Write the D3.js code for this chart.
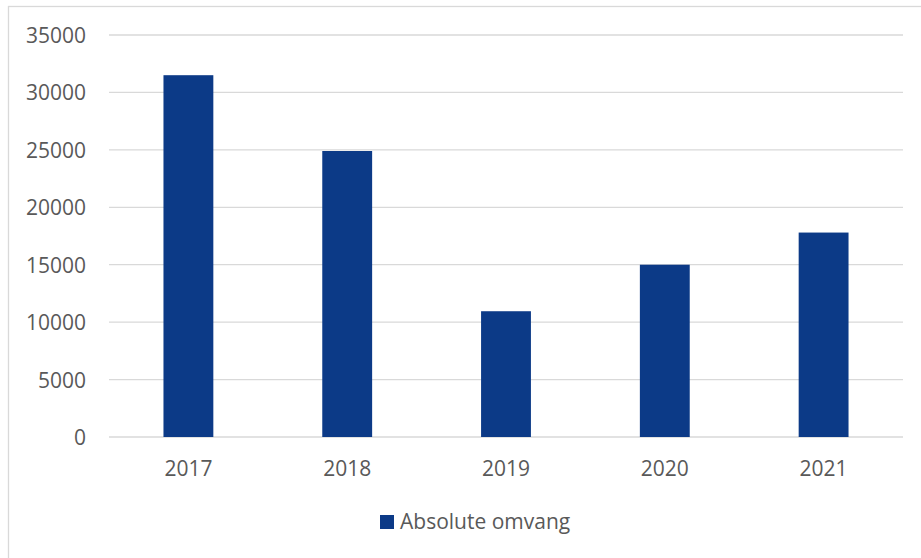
<!DOCTYPE html>
<html><head><meta charset="utf-8">
<script src="https://cdn.jsdelivr.net/npm/d3@7"></script>
<style>body{margin:0;background:#fff}svg{display:block}</style>
</head><body>
<svg id="c" width="921" height="558"></svg>
<script>
const categories = ["2017","2018","2019","2020","2021"];
const values = [31500, 24900, 10950, 15000, 17800];
const yTicks = [0,5000,10000,15000,20000,25000,30000,35000];
const seriesName = "Absolute omvang";

(function(){
const svg = d3.select("#c");
const font = "'Open Sans', sans-serif";
const textColor = "#595959";
const barColor = "#0c3a87";

// outer border
svg.append("rect").attr("x",8.5).attr("y",6.5).attr("width",1000).attr("height",1000)
  .attr("fill","none").attr("stroke","#d9d9d9").attr("stroke-width",1.3);

const pLeft = 109, pRight = 903, pTop = 35, pBottom = 437;
const x = d3.scaleBand().domain(categories).range([pLeft,pRight]).paddingInner(0.686).paddingOuter(0.343);
const y = d3.scaleLinear().domain([0,35000]).range([pBottom,pTop]);

// gridlines
svg.append("g").selectAll("line").data(yTicks).join("line")
  .attr("x1",pLeft).attr("x2",pRight)
  .attr("y1",d=>y(d)).attr("y2",d=>y(d))
  .attr("stroke","#d9d9d9").attr("stroke-width",1.3);

// y axis labels
const yAxis = d3.axisLeft(y).tickValues(yTicks).tickSize(0).tickPadding(0).tickFormat(d3.format("d"));
const gy = svg.append("g").attr("transform",`translate(86,0)`).call(yAxis);
gy.select(".domain").remove();
gy.selectAll("text").attr("font-family",font).attr("font-size",21).attr("fill",textColor).attr("dy","0.36em");

// bars
svg.append("g").selectAll("rect").data(values).join("rect")
  .attr("x",(d,i)=>x(categories[i])).attr("width",x.bandwidth())
  .attr("y",d=>y(d)).attr("height",d=>y(0)-y(d))
  .attr("fill",barColor);

// x axis labels
const xAxis = d3.axisBottom(x).tickSize(0).tickPadding(0);
const gx = svg.append("g").attr("transform",`translate(0,${pBottom})`).call(xAxis);
gx.select(".domain").remove();
gx.selectAll("text").attr("font-family",font).attr("font-size",21).attr("fill",textColor).attr("dy",null).attr("y",39);

// legend
const lg = svg.append("g");
lg.append("rect").attr("x",380).attr("y",515).attr("width",14).attr("height",14).attr("fill",barColor);
lg.append("text").attr("x",400).attr("y",529).text(seriesName)
  .attr("font-family",font).attr("font-size",21).attr("fill",textColor);
})();
</script>
</body></html>
